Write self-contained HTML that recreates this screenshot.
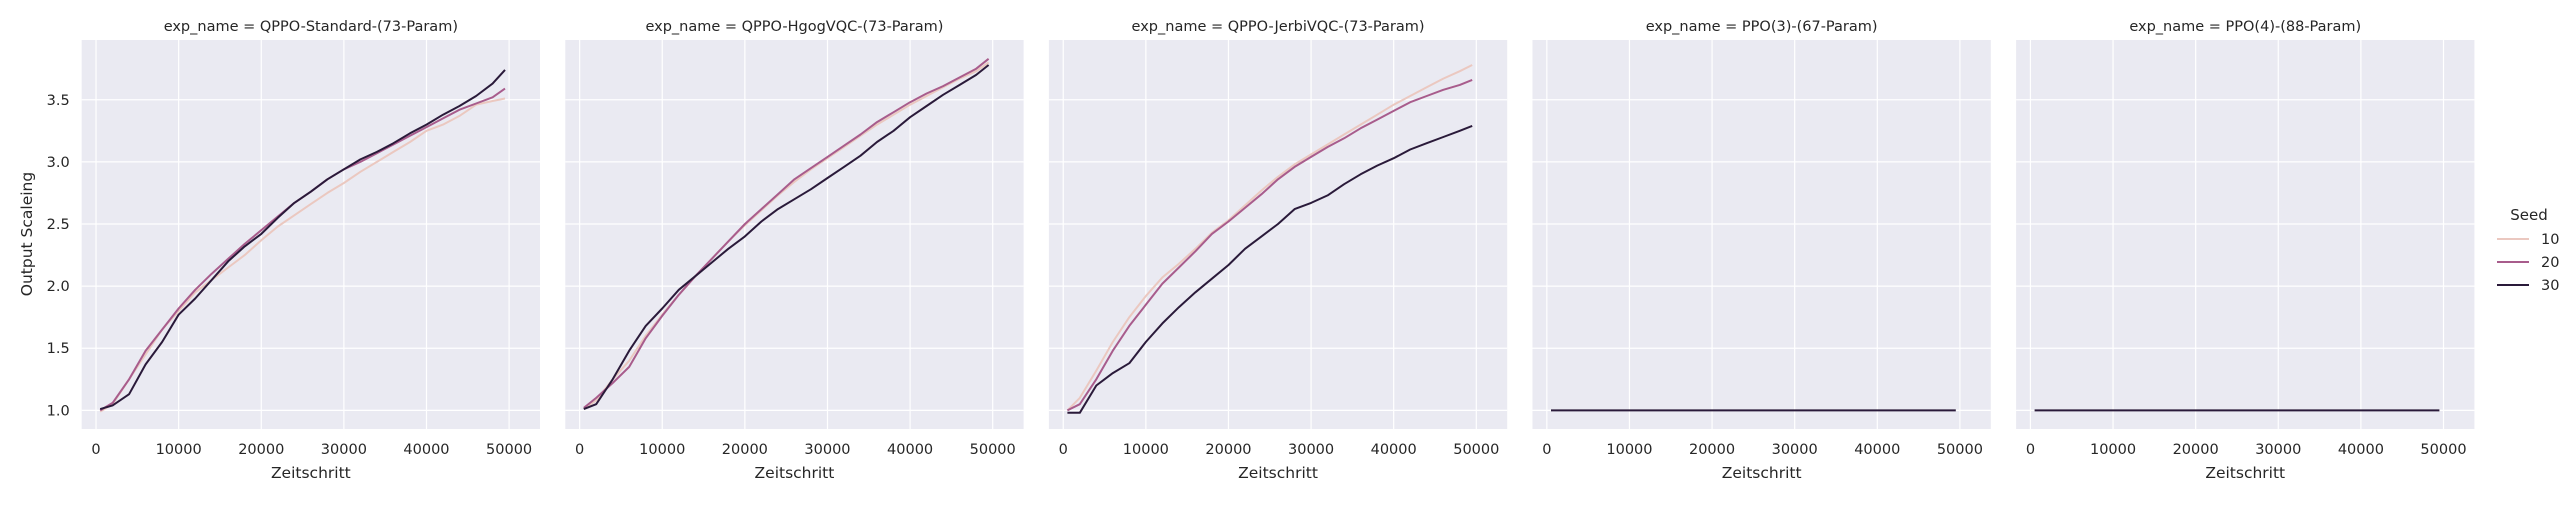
<!DOCTYPE html>
<html><head><meta charset="utf-8"><style>
html,body{margin:0;padding:0;background:#fff;}
svg text{font-family:"DejaVu Sans","Liberation Sans",sans-serif;fill:#262626;}
</style></head><body>
<svg id="chart" width="2574" height="500" viewBox="0 0 2574 500" xmlns="http://www.w3.org/2000/svg"></svg>
<script>
const panelTitles = ["exp_name = QPPO-Standard-(73-Param)","exp_name = QPPO-HgogVQC-(73-Param)","exp_name = QPPO-JerbiVQC-(73-Param)","exp_name = PPO(3)-(67-Param)","exp_name = PPO(4)-(88-Param)"];
const seeds = ["10","20","30"];
const seedColors = ["#ebc8c0","#a85c8c","#2a1a3a"];
const steps = [500,2000,4000,6000,8000,10000,12000,14000,16000,18000,20000,22000,24000,26000,28000,30000,32000,34000,36000,38000,40000,42000,44000,46000,48000,49500];
const xTicks = [0,10000,20000,30000,40000,50000];
const yTicks = [1.0,1.5,2.0,2.5,3.0,3.5];
// panel 1
const p1s10 = [0.99,1.05,1.25,1.45,1.65,1.80,1.95,2.05,2.15,2.25,2.37,2.48,2.57,2.66,2.75,2.83,2.92,3.00,3.08,3.16,3.25,3.30,3.37,3.46,3.49,3.51];
const p1s20 = [1.00,1.06,1.25,1.48,1.65,1.82,1.97,2.10,2.22,2.34,2.45,2.56,2.67,2.76,2.86,2.94,3.00,3.07,3.14,3.21,3.28,3.35,3.42,3.47,3.52,3.59];
const p1s30 = [1.01,1.04,1.13,1.37,1.55,1.77,1.90,2.05,2.20,2.32,2.42,2.55,2.67,2.76,2.86,2.94,3.02,3.08,3.15,3.23,3.30,3.38,3.45,3.53,3.63,3.74];
// panel 2
const p2s10 = [1.01,1.08,1.25,1.40,1.60,1.77,1.93,2.08,2.22,2.36,2.49,2.61,2.73,2.84,2.94,3.03,3.12,3.21,3.30,3.38,3.46,3.53,3.60,3.67,3.73,3.80];
const p2s20 = [1.02,1.10,1.22,1.35,1.58,1.76,1.93,2.08,2.22,2.36,2.50,2.62,2.74,2.86,2.95,3.04,3.13,3.22,3.32,3.40,3.48,3.55,3.61,3.68,3.75,3.83];
const p2s30 = [1.01,1.05,1.25,1.48,1.68,1.82,1.97,2.08,2.19,2.30,2.40,2.52,2.62,2.70,2.78,2.87,2.96,3.05,3.16,3.25,3.36,3.45,3.54,3.62,3.70,3.78];
// panel 3
const p3s10 = [1.00,1.10,1.32,1.55,1.75,1.92,2.07,2.18,2.30,2.43,2.53,2.65,2.77,2.88,2.98,3.06,3.14,3.22,3.30,3.38,3.46,3.53,3.60,3.67,3.73,3.78];
const p3s20 = [1.00,1.05,1.25,1.48,1.68,1.85,2.02,2.15,2.28,2.42,2.52,2.63,2.74,2.86,2.96,3.04,3.12,3.19,3.27,3.34,3.41,3.48,3.53,3.58,3.62,3.66];
const p3s30 = [0.98,0.98,1.20,1.30,1.38,1.55,1.70,1.83,1.95,2.06,2.17,2.30,2.40,2.50,2.62,2.67,2.73,2.82,2.90,2.97,3.03,3.10,3.15,3.20,3.25,3.29];
// panels 4,5
const p4s30 = [1,1,1,1,1,1,1,1,1,1,1,1,1,1,1,1,1,1,1,1,1,1,1,1,1,1];
const p5s30 = [1,1,1,1,1,1,1,1,1,1,1,1,1,1,1,1,1,1,1,1,1,1,1,1,1,1];
const panelSeries = [[p1s10,p1s20,p1s30],[p2s10,p2s20,p2s30],[p3s10,p3s20,p3s30],[null,null,p4s30],[null,null,p5s30]];

const NS="http://www.w3.org/2000/svg";
const svg=document.getElementById('chart');
function mk(tag,attrs,parent){const e=document.createElementNS(NS,tag);for(const k in attrs)e.setAttribute(k,attrs[k]);(parent||svg).appendChild(e);return e;}
const AX0=81.7, AW=458.3, PITCH=483.6, AT=40, AB=429;
const XMIN=-1735, XMAX=53740, YMIN=0.85, YMAX=3.981;
function sx(p,v){return AX0+p*PITCH+(v-XMIN)/(XMAX-XMIN)*AW;}
function sy(v){return AB-(v-YMIN)/(YMAX-YMIN)*(AB-AT);}

panelTitles.forEach((t,p)=>{
  const g=mk('g',{});
  
  
  const x0=AX0+p*PITCH;
  const bg=mk('rect',{x:x0,y:AT,width:AW,height:AB-AT,fill:'#eaeaf2'},g);
  
  
  xTicks.forEach(v=>{
    const gl=mk('line',{x1:sx(p,v),x2:sx(p,v),y1:AT,y2:AB,stroke:'#fff','stroke-width':1.2},g);
    
    
    const tl=mk('text',{x:sx(p,v),y:454,'font-size':14.5,'text-anchor':'middle'},g);
    tl.textContent=v;
    
    
  });
  yTicks.forEach(v=>{
    const gl=mk('line',{x1:x0,x2:x0+AW,y1:sy(v),y2:sy(v),stroke:'#fff','stroke-width':1.2},g);
    
    
    if(p===0){
      const tl=mk('text',{x:x0-12,y:sy(v)+5,'font-size':14.5,'text-anchor':'end'},g);
      tl.textContent=v.toFixed(1);
      
      
    }
  });
  panelSeries[p].forEach((s,i)=>{
    if(!s)return;
    const d=s.map((v,j)=>(j?'L':'M')+sx(p,steps[j]).toFixed(1)+','+sy(v).toFixed(1)).join('');
    const pl=mk('path',{d:d,fill:'none',stroke:seedColors[i],'stroke-width':2,'stroke-linejoin':'round'},g);
    
    
  });
  const tt=mk('text',{x:x0+AW/2,y:31,'font-size':14.5,'text-anchor':'middle'},g);
  tt.textContent=t;
  
  
  const xl=mk('text',{x:x0+AW/2,y:478,'font-size':15.5,'text-anchor':'middle'},g);
  xl.textContent='Zeitschritt';
  
  
});
const yl=mk('text',{x:0,y:0,'font-size':15.5,'text-anchor':'middle',transform:'translate(32,234) rotate(-90)'});
yl.textContent='Output Scaleing';



const lg=mk('g',{});


const lt=mk('text',{x:2529,y:220,'font-size':15,'text-anchor':'middle'},lg);
lt.textContent='Seed';


seeds.forEach((s,i)=>{
  const y=239+i*23;
  const ln=mk('line',{x1:2497,x2:2529,y1:y,y2:y,stroke:seedColors[i],'stroke-width':2},lg);
  
  
  const tx=mk('text',{x:2541,y:y+5,'font-size':14.5},lg);
  tx.textContent=s;
  
  
});
</script>
</body></html>
